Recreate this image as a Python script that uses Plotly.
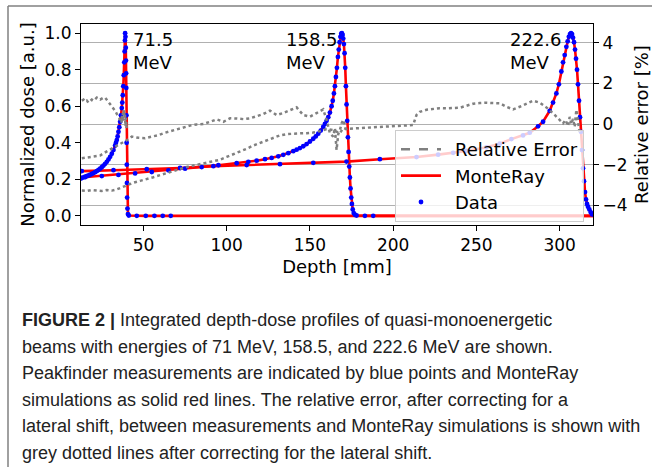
import plotly.graph_objects as go

# ---------------- data ----------------
# 71.5 MeV measurement (Peakfinder)
d1_depth = [12.5, 13, 14, 15, 16, 17, 18, 19, 20, 21, 22, 23, 24, 25, 26, 27, 28, 29, 30, 31, 32, 33,
            33.5, 34, 34.5, 35, 35.5, 36, 36.5, 37, 37.3, 37.6, 37.9, 38.2, 38.5, 38.7, 38.9, 39.0,
            39.2, 39.4, 39.5, 39.6, 39.7, 39.8, 39.9, 40.0, 40.1, 40.2, 40.4, 40.7, 41.2,
            46, 51.4, 56.6, 61.6, 66.4]
d1_dose = [0.205, 0.208, 0.211, 0.214, 0.217, 0.221, 0.225, 0.229, 0.234, 0.239, 0.245, 0.251, 0.258,
           0.266, 0.275, 0.285, 0.296, 0.309, 0.323, 0.34, 0.36, 0.385,
           0.40, 0.415, 0.435, 0.46, 0.485, 0.515, 0.55, 0.59, 0.62, 0.66, 0.71, 0.77, 0.84, 0.9, 0.96, 1.0,
           0.98, 0.92, 0.85, 0.78, 0.7, 0.55, 0.4, 0.28, 0.18, 0.1, 0.04, 0.01, 0.002,
           0.0, 0.0, 0.0, 0.0, 0.0]

# 158.5 MeV measurement
d2_depth = [15, 25, 35, 45, 55, 65, 75, 85, 95, 106, 113, 118, 123, 127, 131, 134, 137, 140, 142, 144,
            146, 148, 150, 152, 153.5, 155, 156.5, 158, 159, 160, 161, 162, 163, 163.7, 164.4, 165,
            165.6, 166.2, 166.8, 167.3, 167.8, 168.3, 168.8, 169.2, 169.6, 170, 170.4, 170.8, 171.2,
            171.6, 172, 172.4, 172.8, 173.2, 173.6, 174, 174.4, 174.8, 175.2, 175.7, 176.3, 177, 178,
            183, 188]
d2_dose = [0.212, 0.218, 0.224, 0.232, 0.24, 0.249, 0.258, 0.267, 0.277, 0.288, 0.296, 0.302, 0.31,
           0.317, 0.326, 0.334, 0.343, 0.354, 0.362, 0.371, 0.381, 0.393, 0.407, 0.422, 0.435, 0.45,
           0.467, 0.487, 0.503, 0.52, 0.54, 0.565, 0.60, 0.63, 0.67, 0.71, 0.76, 0.81, 0.87, 0.91, 0.95,
           0.98, 0.997, 1.0, 0.99, 0.97, 0.94, 0.89, 0.81, 0.71, 0.61, 0.52, 0.43, 0.35, 0.27, 0.21,
           0.15, 0.10, 0.065, 0.035, 0.015, 0.006, 0.002, 0.0, 0.0]

# 222.6 MeV measurement
d3_depth = [13, 32, 52, 72, 92, 112, 132, 152, 172, 192, 214, 227, 236, 244, 256, 264, 271, 278, 282,
            287, 290, 294, 296, 298, 299.5, 301, 302, 303, 304, 304.8, 305.5, 306.2, 306.8, 307.4,
            308, 308.6, 309.2, 309.8, 310.4, 311, 311.6, 312.2, 312.8, 313.4, 314, 314.6, 315.2,
            315.8, 316.4, 317, 317.8, 318.6, 319.4]
d3_dose = [0.245, 0.25, 0.255, 0.262, 0.272, 0.278, 0.283, 0.29, 0.297, 0.31, 0.322, 0.335, 0.345,
           0.355, 0.375, 0.395, 0.42, 0.44, 0.455, 0.49, 0.515, 0.575, 0.62, 0.67, 0.72, 0.79, 0.84,
           0.88, 0.925, 0.955, 0.98, 0.995, 1.0, 0.995, 0.975, 0.95, 0.91, 0.86, 0.80, 0.72, 0.63,
           0.54, 0.46, 0.36, 0.26, 0.19, 0.13, 0.09, 0.065, 0.05, 0.035, 0.02, 0.008]

# MonteRay simulation: entrance value at 12.5 mm and zero tail to 320 mm added to the curves
mr_entrance = [0.205, 0.21, 0.245]
mr_tail_depth = 320
mr_tail_dose = 0.0

# relative error [%] (right axis)
e1_depth = [13, 14, 15, 16, 17, 18, 19, 20, 21, 22, 23, 24, 25, 26, 27, 28, 29, 30, 31, 32, 33, 34,
            35, 35.5, 36, 36.4, 36.8, 37.1, 37.4, 37.7, 38, 38.3, 38.6, 38.9, 39.2, 39.5, 39.8, 40.1]
e1_err = [1.15, 1.2, 1.1, 1.15, 1.05, 1.15, 1.2, 1.15, 1.25, 1.3, 1.25, 1.2, 1.25, 1.3, 1.3, 1.2,
          1.05, 0.95, 0.85, 0.75, 0.65, 0.5, 0.4, 0.3, 0.1, 0.25, 0.05, 0.4, 0.15, 0.55, 0.3, 0.7,
          0.2, 0.45, -0.1, 0.3, -0.2, 0.1]

e2_depth = [13, 16, 20, 24, 28, 32, 36, 40, 43, 47, 51, 55, 59, 63, 67, 71, 75, 78, 82, 86, 90, 94,
            98, 102, 106, 110, 114, 118, 122, 126, 130, 134, 138, 142, 146, 150, 154, 158, 160, 162,
            164, 165, 166, 167, 168, 169, 170, 171, 172]
e2_err = [-1.69, -1.65, -1.6, -1.55, -1.35, -1.15, -0.98, -0.8, -0.62, -0.68, -0.7, -0.62, -0.55,
          -0.43, -0.33, -0.24, -0.15, -0.08, -0.02, 0.0, 0.11, 0.23, 0.11, 0.28, 0.27, 0.24, 0.28,
          0.39, 0.49, 0.66, 0.44, 0.54, 0.69, 0.82, 0.44, 0.36, 0.54, 0.72, 0.2, -0.46, -0.62, -0.2,
          -1.28, -0.5, -0.3, 0.03, 0.2, -0.1, -0.3]

e3_depth = [13, 16, 19, 22, 25, 28, 31, 34, 37, 40, 44, 48, 52, 56, 60, 64, 68, 72, 76, 80, 84, 88,
            92, 96, 100, 104, 108, 112, 116, 120, 124, 128, 132, 136, 140, 144, 148, 152, 156, 160,
            164, 168, 170, 172, 176, 180, 184, 188, 192, 196, 200, 204, 208, 212, 214, 216, 220,
            224, 228, 232, 236, 240, 244, 248, 252, 256, 260, 264, 268, 272, 276, 280, 284, 288,
            292, 296, 300, 302, 303.5, 305, 306, 307, 308, 309, 310, 311, 312]
e3_err = [-3.28, -3.3, -3.25, -3.28, -3.3, -3.25, -3.28, -3.22, -3.12, -3.0, -2.89, -2.8, -2.72,
          -2.62, -2.52, -2.43, -2.32, -2.22, -2.12, -2.05, -2.0, -1.92, -1.86, -1.76, -1.62, -1.48,
          -1.38, -1.22, -1.06, -0.93, -0.8, -0.68, -0.56, -0.5, -0.47, -0.46, -0.45, -0.42, -0.35,
          -0.25, -0.3, -0.45, -0.2, -0.25, -0.22, -0.2, -0.2, -0.18, -0.15, -0.12, -0.1, -0.08,
          -0.05, -0.05, 0.45, 0.6, 0.7, 0.75, 0.78, 0.77, 0.78, 0.8, 0.9, 1.0, 1.03, 1.05, 1.03,
          1.02, 0.85, 0.72, 0.85, 1.0, 1.15, 1.05, 0.82, 0.53, 0.2, 0.03, 0.2, -0.1, 0.35, 0.0,
          0.25, -0.15, 0.7, 0.1, -0.45]

energy_labels = ["71.5<br>MeV", "158.5<br>MeV", "222.6<br>MeV"]
energy_label_x = [42.6, 134.4, 268.8]

x_ticks = [50, 100, 150, 200, 250, 300]
y_ticks = [0.0, 0.2, 0.4, 0.6, 0.8, 1.0]
y2_ticks = [-4, -2, 0, 2, 4]

caption_lines = [
    "<b>FIGURE 2 |</b> Integrated depth-dose profiles of quasi-monoenergetic",
    "beams with energies of 71 MeV, 158.5, and 222.6 MeV are shown.",
    "Peakfinder measurements are indicated by blue points and MonteRay",
    "simulations as solid red lines. The relative error, after correcting for a",
    "lateral shift, between measurements and MonteRay simulations is shown with",
    "grey dotted lines after correcting for the lateral shift.",
]

# ---------------- figure ----------------
W, H = 652, 467
ML, MR, MT, MB = 81, 59, 24, 242
PW, PH = W - ML - MR, H - MT - MB

def px_x(px):
    return (px - ML) / PW

def px_y(py):
    return (H - MB - py) / PH

FONT = "DejaVu Sans"
fig = go.Figure()

# legend-only entry for relative error (dashed in the legend)
fig.add_trace(go.Scatter(x=[None], y=[None], mode="lines", name="\u2002Relative Error",
                         line=dict(color="grey", width=2.5, dash="dash"), yaxis="y2",
                         legendrank=1))

curves = [(d1_depth, d1_dose), (d2_depth, d2_dose), (d3_depth, d3_dose)]
for i, (dd, dv) in enumerate(curves):
    fig.add_trace(go.Scatter(x=[12.5] + dd + [mr_tail_depth], y=[mr_entrance[i]] + dv + [mr_tail_dose],
                             mode="lines", line=dict(color="red", width=2.6),
                             name="\u2002MonteRay", showlegend=(i == 0), legendgroup="mr",
                             legendrank=2))
for i, (dd, dv) in enumerate(curves):
    fig.add_trace(go.Scatter(x=dd, y=dv, mode="markers",
                             marker=dict(color="blue", size=4.8, line=dict(width=0)),
                             name="\u2002Data", showlegend=(i == 0), legendgroup="data",
                             legendrank=3))
for ed, ev in [(e1_depth, e1_err), (e2_depth, e2_err), (e3_depth, e3_err)]:
    fig.add_trace(go.Scatter(x=ed, y=ev, mode="lines", yaxis="y2",
                             line=dict(color="grey", width=2.5, dash="dot"),
                             showlegend=False))

annotations = []
for t, xv in zip(energy_labels, energy_label_x):
    annotations.append(dict(x=xv, y=1.035, xref="x", yref="y", text=t, showarrow=False,
                            xanchor="left", yanchor="top", align="left",
                            font=dict(family=FONT, size=18, color="black")))

cap_y0, cap_dy = 320, 26.6
for k, line in enumerate(caption_lines):
    annotations.append(dict(x=px_x(20), y=px_y(cap_y0 + k * cap_dy), xref="paper", yref="paper",
                            text=line, showarrow=False, xanchor="left", yanchor="middle",
                            align="left",
                            font=dict(family="Liberation Sans", size=18, color="#222222")))

shapes = [
    dict(type="line", xref="paper", yref="paper", x0=px_x(8), x1=px_x(660), y0=px_y(6), y1=px_y(6),
         line=dict(color="#808080", width=1.5)),
    dict(type="line", xref="paper", yref="paper", x0=px_x(8), x1=px_x(8), y0=px_y(6), y1=px_y(470),
         line=dict(color="#808080", width=1.5)),
]

tick_font = dict(family=FONT, size=17, color="black")
title_font = dict(family=FONT, size=18, color="black")
fig.update_layout(
    width=W, height=H,
    margin=dict(l=ML, r=MR, t=MT, b=MB, pad=0, autoexpand=False),
    paper_bgcolor="white", plot_bgcolor="white",
    font=dict(family=FONT, size=17, color="black"),
    xaxis=dict(range=[12.5, 320], tickvals=x_ticks, ticks="outside", ticklen=5, tickwidth=1,
               tickcolor="black", showline=True, linecolor="black", linewidth=1, mirror=True,
               showgrid=False, zeroline=False, tickfont=tick_font, automargin=False,
               title=dict(text="Depth [mm]", font=title_font, standoff=5)),
    yaxis=dict(range=[-0.05, 1.05], tickvals=y_ticks, tickformat=".1f", ticks="outside", ticklen=5,
               tickwidth=1, tickcolor="black", showline=True, linecolor="black", linewidth=1,
               showgrid=False, zeroline=False, tickfont=tick_font, automargin=False,
               title=dict(text="Normalized dose [a.u.]", font=title_font, standoff=5)),
    yaxis2=dict(range=[-4.975, 4.926], tickvals=y2_ticks, overlaying="y", side="right",
                ticks="outside", ticklen=5, tickwidth=1, tickcolor="black", showline=True,
                linecolor="black", linewidth=1, showgrid=True, gridcolor="#b0b0b0", gridwidth=1,
                zeroline=False, tickfont=tick_font, automargin=False,
                title=dict(text="Relative error [%]", font=title_font, standoff=10)),
    legend=dict(x=px_x(395), y=px_y(130), xanchor="left", yanchor="top",
                bgcolor="rgba(255,255,255,0.8)", bordercolor="#cccccc", borderwidth=1,
                font=dict(family=FONT, size=18, color="black"), itemwidth=40,
                traceorder="normal"),
    annotations=annotations,
    shapes=shapes,
    showlegend=True,
)

fig.write_html("out.html", config={"displayModeBar": False},
               post_script="document.body.style.margin='0';document.body.style.overflow='hidden';")
